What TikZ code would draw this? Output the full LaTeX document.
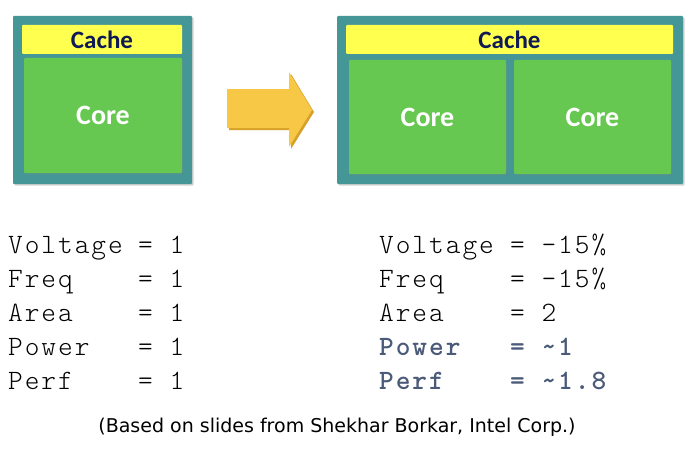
\documentclass[tikz,border=0pt]{standalone}
\usepackage{fontspec}
\newfontfamily\typefont[LetterSpace=7]{Latin Modern Mono Light}
\newfontfamily\slidefont{Carlito}
\newfontfamily\notefont{DejaVu Sans}
\usetikzlibrary{shadows}

\definecolor{chipteal}{RGB}{69,150,150}
\definecolor{cacheyellow}{RGB}{255,255,80}
\definecolor{cachenavy}{RGB}{15,25,85}
\definecolor{coregreen}{RGB}{102,200,80}
\definecolor{arrowgold}{RGB}{246,200,70}
\definecolor{arrowdark}{RGB}{215,160,40}
\definecolor{slateblue}{RGB}{74,90,120}

\begin{document}
\begin{tikzpicture}[x=1pt, y=-1pt,
    chip/.style={fill=chipteal, rounded corners=1pt, inner sep=0pt,
      drop shadow={shadow xshift=1.5pt, shadow yshift=-1.5pt, opacity=0.35}},
    cachebox/.style={fill=cacheyellow, rounded corners=1pt, inner sep=0pt,
      minimum height=29pt, text=cachenavy,
      font=\slidefont\bfseries\fontsize{25}{25}\selectfont},
    corebox/.style={fill=coregreen, rounded corners=1pt, inner sep=0pt,
      text=white, font=\slidefont\bfseries\fontsize{28}{28}\selectfont,
      drop shadow={shadow xshift=1.2pt, shadow yshift=-1.2pt, opacity=0.3}},
    rowtext/.style={anchor=base west, inner sep=0pt,
      font=\typefont\fontsize{28}{30}\selectfont},
    boldrow/.style={rowtext, text=slateblue,
      font=\typefont\bfseries\fontsize{28}{30}\selectfont}]

    \fill[white] (0,0) rectangle (696,452);
    \useasboundingbox (0,0) rectangle (696,452);

    % single core chip
    \node[chip, minimum width=179pt, minimum height=168pt] (onechip) at (102.5,100) {};
    \node[cachebox, minimum width=160pt] (onecache) at (102,39.5) {Cache};
    \node[corebox, minimum width=158pt, minimum height=115pt] (onecore) at (103,115.5) {Core};

    % arrow
    \fill[arrowdark] (229,91) -- (291,91) -- (291,74) -- (314,112) -- (291,149) -- (291,130) -- (229,130) -- cycle;
    \fill[arrowgold] (227,89) -- (289,89) -- (289,72) -- (312,110) -- (289,147) -- (289,128) -- (227,128) -- cycle;

    % dual core chip
    \node[chip, minimum width=346pt, minimum height=168pt] (twochip) at (510,100) {};
    \node[cachebox, minimum width=327pt] (twocache) at (509.5,39.5) {Cache};
    \node[corebox, minimum width=157pt, minimum height=114pt] (coreA) at (427.5,117) {Core};
    \node[corebox, minimum width=157pt, minimum height=114pt] (coreB) at (592.5,117) {Core};

    \foreach \nm/\vl [count=\i] in {Voltage/1, Freq/1, Area/1, Power/1, Perf/1} {
        \node[rowtext] (lname\i) at (8,219+34*\i) {\nm};
        \node[rowtext] (lval\i) at (138,219+34*\i) {= \vl};
    }

    \foreach \nm/\vl/\st [count=\i] in {Voltage/-15\%/rowtext, Freq/-15\%/rowtext, Area/2/rowtext,
        Power/\textasciitilde1/boldrow, Perf/\textasciitilde1.8/boldrow} {
        \node[\st] (rname\i) at (379,219+34*\i) {\nm};
        \node[\st] (rval\i) at (510,219+34*\i) {= \vl};
    }

    \node[anchor=base, inner sep=0pt, font=\notefont\fontsize{19}{22}\selectfont] (credit) at (337,432)
        {(Based on slides from Shekhar Borkar, Intel Corp.)};

\end{tikzpicture}
\end{document}
